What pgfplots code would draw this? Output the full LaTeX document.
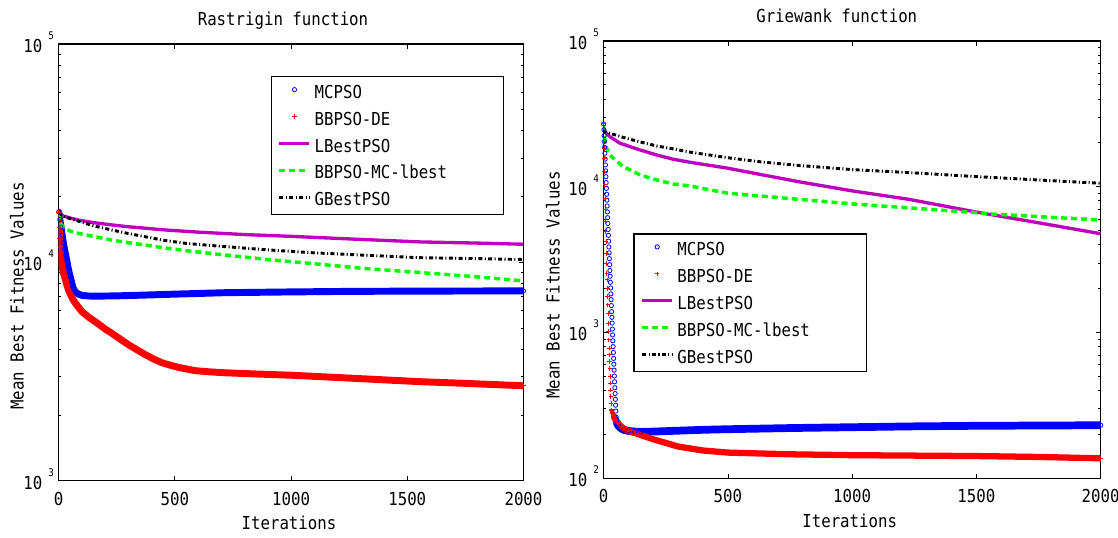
\documentclass[border=0pt]{standalone}
\usepackage{pgfplots}
\pgfplotsset{compat=1.18}
\usepackage{pgfplotstable}
\usepackage{fontspec}
\setmainfont{DejaVu Sans Mono}[FakeStretch=0.88]
\newcommand{\fs}{\fontsize{13.4}{16}\selectfont}
\newcommand{\tp}[1]{10\hspace{4.5pt}\raisebox{9.8pt}{\fontsize{7.9}{8}\selectfont #1}}
\newcommand{\lt}[1]{\makebox[139.4pt][l]{\hspace{2.6pt}#1}}
\definecolor{mag}{RGB}{190,0,190}
\definecolor{lgreen}{RGB}{0,255,0}

% ---------- Rastrigin ----------
\pgfplotstableread{
x y
0 17000
5 15700
10 14500
15 13300
20 12300
25 11500
30 10800
35 10200
40 9500
45 9000
50 8550
55 8150
60 7750
63 7600
70 7350
84 7160
100 7060
130 7010
160 7000
250 7020
372 7080
500 7150
716 7260
1000 7320
1250 7360
1500 7380
1750 7390
2000 7400
}\LMC
\pgfplotstableread{
x y
0 17000
2 14500
4 12900
6 11700
8 10900
10 10300
13 9800
17 9300
21 8900
27 8500
35 7900
42 7500
49 7200
60 6800
72 6500
84 6250
100 5950
130 5600
157 5350
200 4950
229 4730
265 4450
301 4190
340 3960
372 3780
410 3600
444 3470
480 3380
516 3300
588 3190
650 3150
716 3120
850 3080
1000 3040
1250 2950
1555 2840
1750 2790
2000 2720
}\LDE
\pgfplotstableread{
x y
0 16800
20 16300
50 15950
84 15620
150 15200
229 14830
300 14550
372 14330
458 14070
600 13750
800 13400
1000 13150
1250 12800
1555 12400
1800 12250
2000 12100
}\LL
\pgfplotstableread{
x y
0 16800
5 15350
15 14700
27 14320
50 13900
84 13580
157 13100
229 12640
300 12300
372 12000
448 11670
550 11300
716 10800
900 10300
1100 9850
1300 9400
1555 8980
1800 8580
2000 8220
}\LMCl
\pgfplotstableread{
x y
0 16800
30 16100
84 15450
150 14700
229 14060
300 13550
372 13100
448 12640
550 12200
716 11800
900 11400
1100 11050
1300 10800
1555 10500
1800 10400
2000 10300
}\LG

% ---------- Griewank ----------
\pgfplotstableread{
x y
0 26950
1 24570
2 22400
3 20420
4 18610
5 16970
6 15470
7 14100
8 12850
9 11720
10 10680
11 9740
12 8880
13 8090
14 7380
15 6720
16 6130
17 5590
18 5090
19 4640
20 4230
21 3860
22 3520
23 3210
24 2920
25 2660
26 2430
27 2210
28 2020
29 1840
30 1680
31 1530
32 1390
33 1270
34 1160
35 1055
36 962
37 877
38 800
39 729
40 664
41 606
42 552
43 503
44 459
45 418
46 381
47 348
48 317
49 289
50 263
51 255
52 248
53 243
55 236
57 232
60 228
70 220
80 215
100 211
125 209
150 208
200 209
300 212
400 215
500 217
750 221
1000 224
1250 227
1500 229
1750 230
2000 231
}\RMC
\pgfplotstableread{
x y
0 26950
1 20390
2 18360
3 15680
4 12690
5 10280
6 8335
7 6928
8 5760
9 4918
10 4201
11 3496
12 2985
13 2549
14 2293
15 2011
16 1762
17 1545
18 1355
19 1157
20 1013
21 889
22 780
23 701
24 631
25 568
26 498
27 449
28 403
29 363
30 327
31 294
32 290
33 287
34 284
35 281
36 278
37 276
38 273
39 270
40 268
41 265
42 263
43 261
44 259
45 257
47 253
50 247
55 241
60 236
70 227
80 220
100 211
130 203
160 195
200 185
300 165
400 155
500 150
750 146
1000 144
1250 143
1500 142
1750 140
2000 137
}\RDE
\pgfplotstableread{
x y
0 24500
5 23900
25 22040
66 19860
146 17880
213 16510
280 15430
347 14720
500 13390
640 12050
782 10840
1000 9360
1227 8200
1500 6700
1746 5670
2000 4760
}\RL
\pgfplotstableread{
x y
0 26000
2 23500
5 21200
12 18370
32 16070
79 13740
146 12050
213 11130
280 10440
347 10120
500 9020
782 8200
1000 7620
1500 6640
1555 6500
2000 5910
}\RMCl
\pgfplotstableread{
x y
0 24500
3 23900
90 21500
146 20300
213 19040
280 18170
348 17250
500 15800
633 14800
782 14000
1000 13100
1227 12500
1500 11730
1746 11130
2000 10560
}\RG

\pgfplotsset{
 lineleg/.style={legend image code/.code={\path[draw=none,fill=none] (0pt,-3pt) rectangle (22.5pt,3pt); \draw (0pt,1.5pt) -- (22.5pt,1.5pt);}},
 markleg/.style={legend image code/.code={\path[draw=none,fill=none] (0pt,-3pt) rectangle (22.5pt,3pt); \draw plot coordinates {(11.25pt,1.5pt)};}},
}

\begin{document}
\begin{tikzpicture}
\useasboundingbox (-44pt,-43pt) rectangle (794.5pt,360.5pt);
\begin{semilogyaxis}[
  scale only axis, xmin=0, xmax=2000,
  xtick={0,500,1000,1500,2000}, xticklabels={0,500,1000,1500,2000},
  tick align=inside, xtick pos=both, ytick pos=both,
  xticklabel pos=lower, yticklabel pos=left,
  axis line style={line width=1.1pt},
  major tick length=3.5pt, minor tick length=2pt,
  tick style={line width=0.6pt, black},
  tick label style={font=\fs},
  x tick label style={yshift=-5pt},
  y tick label style={yshift=1.4pt},
  label style={font=\fs},
  legend style={font=\fs, draw=black, line width=1pt, fill=white,
    inner xsep=4.9pt, inner ysep=6.4pt, row sep=10.45pt,
    cells={anchor=center}, nodes={inner sep=0pt, text height=9.75pt, text depth=0pt}},
  at={(0pt,0pt)}, anchor=south west,
  width=348.6pt, height=327.5pt,
  ymin=1000, ymax=100000,
  ytick={1000,10000,100000}, yticklabels={\tp{3},\tp{4},\tp{5}},
  title={Rastrigin function}, title style={font=\fs, anchor=base, at={(axis description cs:0.4826,1.0229)}},
  xlabel={Iterations}, xlabel style={anchor=base, at={(axis description cs:0.4955,-0.113)}},
  ylabel={Mean Best Fitness Values}, ylabel style={anchor=center, at={(axis description cs:-0.0898,0.423)}},
  legend style={at={(axis description cs:0.9587,0.9267)}, anchor=north east},
]
\addplot[blue, line width=5.2pt, line join=round, line cap=round, forget plot] table {\LMC};
\addplot[only marks, mark=o, mark size=1.6pt, blue, line width=0.6pt, markleg] table {\LMC};
\addlegendentry{\lt{MCPSO}}
\addplot[red, line width=5.2pt, line join=round, line cap=round, forget plot] table {\LDE};
\addplot[only marks, mark=+, mark size=1.7pt, red, line width=0.75pt, markleg] table {\LDE};
\addlegendentry{\lt{BBPSO-DE}}
\addplot[mag, line width=2.5pt, lineleg] table {\LL};
\addlegendentry{\lt{LBestPSO}}
\addplot[lgreen, line width=2.6pt, dash pattern=on 4.5pt off 3pt, lineleg] table {\LMCl};
\addlegendentry{\lt{BBPSO-MC-lbest}}
\addplot[black, line width=2.2pt, dash pattern=on 3pt off 1.8pt on 0.8pt off 1.8pt, lineleg] table {\LG};
\addlegendentry{\lt{GBestPSO}}
\end{semilogyaxis}

\begin{semilogyaxis}[
  scale only axis, xmin=0, xmax=2000,
  xtick={0,500,1000,1500,2000}, xticklabels={0,500,1000,1500,2000},
  tick align=inside, xtick pos=both, ytick pos=both,
  xticklabel pos=lower, yticklabel pos=left,
  axis line style={line width=1.1pt},
  major tick length=3.5pt, minor tick length=2pt,
  tick style={line width=0.6pt, black},
  tick label style={font=\fs},
  x tick label style={yshift=-5pt},
  y tick label style={yshift=1.4pt},
  label style={font=\fs},
  legend style={font=\fs, draw=black, line width=1pt, fill=white,
    inner xsep=4.9pt, inner ysep=6.4pt, row sep=10.45pt,
    cells={anchor=center}, nodes={inner sep=0pt, text height=9.75pt, text depth=0pt}},
  at={(408.75pt,1.8pt)}, anchor=south west,
  width=372.75pt, height=328pt,
  ymin=100, ymax=100000,
  ytick={100,1000,10000,100000}, yticklabels={\tp{2},\tp{3},\tp{4},\tp{5}},
  title={Griewank function}, title style={font=\fs, anchor=base, at={(axis description cs:0.469,1.0229)}},
  xlabel={Iterations}, xlabel style={anchor=base, at={(axis description cs:0.495,-0.1137)}},
  ylabel={Mean Best Fitness Values}, ylabel style={anchor=center, at={(axis description cs:-0.102,0.442)}},
  legend style={at={(axis description cs:0.0596,0.5603)}, anchor=north west},
]
\addplot[blue, line width=5.8pt, line join=round, line cap=round, forget plot, restrict x to domain=53:2000] table {\RMC};
\addplot[only marks, mark=o, mark size=1.6pt, blue, line width=0.6pt, markleg] table {\RMC};
\addlegendentry{\lt{MCPSO}}
\addplot[red, line width=4.7pt, line join=round, line cap=round, forget plot, restrict x to domain=41:2000] table {\RDE};
\addplot[only marks, mark=+, mark size=1.7pt, red, line width=0.75pt, markleg] table {\RDE};
\addlegendentry{\lt{BBPSO-DE}}
\addplot[mag, line width=2.5pt, lineleg] table {\RL};
\addlegendentry{\lt{LBestPSO}}
\addplot[lgreen, line width=2.6pt, dash pattern=on 4.5pt off 3pt, lineleg] table {\RMCl};
\addlegendentry{\lt{BBPSO-MC-lbest}}
\addplot[black, line width=2.2pt, dash pattern=on 3pt off 1.8pt on 0.8pt off 1.8pt, lineleg] table {\RG};
\addlegendentry{\lt{GBestPSO}}
\end{semilogyaxis}
\end{tikzpicture}
\end{document}
